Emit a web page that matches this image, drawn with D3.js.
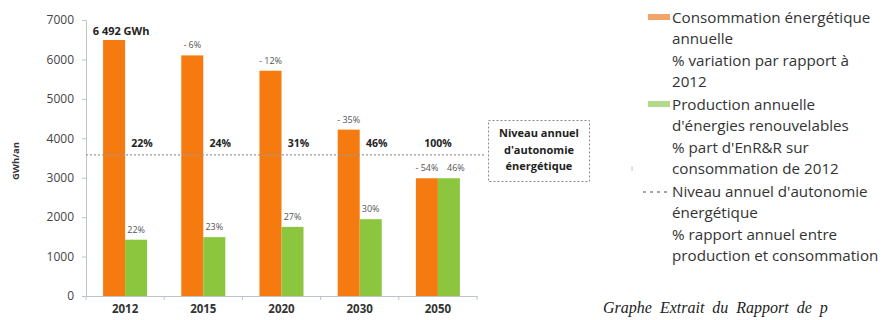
<!DOCTYPE html>
<html>
<head>
<meta charset="utf-8">
<script src="https://cdn.jsdelivr.net/npm/d3@7"></script>
<style>
  body { margin: 0; background: #fff; }
  svg { display: block; font-family: "Open Sans", sans-serif; }
</style>
</head>
<body>
<svg id="chart" width="886" height="320"></svg>
<script>
// data
const years = ["2012", "2015", "2020", "2030", "2050"];
const consumption = [6492, 6102, 5713, 4220, 2986];     // GWh/an
const production = [1428, 1493, 1753, 1948, 2986];      // GWh/an
const consLabels = ["6 492 GWh", "- 6%", "- 12%", "- 35%", "- 54%"];
const prodLabels = ["22%", "23%", "27%", "30%", "46%"];
const autonomyLabels = ["22%", "24%", "31%", "46%", "100%"];
const autonomyLevel = 3580;
const yTicks = [0, 1000, 2000, 3000, 4000, 5000, 6000, 7000];

const orange = "#f57a0f";
const green = "#8cc63f";
const textCol = "#333";

const svg = d3.select("#chart");

let x = d3.scaleBand().domain(years).range([86, 477]).paddingInner(0.437).paddingOuter(0.2185);
let x1 = d3.scaleBand().domain(["cons", "prod"]).range([0, x.bandwidth()]);
let y = d3.scaleLinear().domain([0, 7000]).range([296, 20]);

// y axis
let yAxis = svg.append("g").attr("transform", "translate(86,0)")
    .call(d3.axisLeft(y).tickValues(yTicks).tickSize(4).tickPadding(8).tickFormat(d3.format("d")));
yAxis.select(".domain").attr("stroke", "#b8c4d0");
yAxis.selectAll(".tick line").attr("stroke", "#b8c4d0");
yAxis.selectAll("text").attr("font-size", 12).attr("fill", "#444").attr("font-family", "Open Sans");

svg.append("text")
    .attr("transform", "translate(19,161) rotate(-90)")
    .attr("text-anchor", "middle")
    .attr("font-size", 9.5).attr("font-weight", "bold").attr("fill", textCol)
    .text("GWh/an");

// x axis
let xAxis = svg.append("g").attr("transform", "translate(0,296)")
    .call(d3.axisBottom(x).tickSize(0).tickPadding(9));
xAxis.select(".domain").attr("stroke", "#b8c4d0");
xAxis.selectAll("text").attr("font-size", 11.5).attr("font-weight", "bold").attr("fill", "#333").attr("font-family", "Open Sans");

// separator ticks between categories
let bounds = [x.range()[0]].concat(years.map(d => x(d) + x.bandwidth() + x.step() * x.paddingInner() / 2));
svg.selectAll(".sep").data(bounds).enter().append("line")
    .attr("x1", d => d).attr("x2", d => d)
    .attr("y1", 296).attr("y2", 300)
    .attr("stroke", "#b8c4d0");

const rows = years.map((yr, i) => ({
  year: yr, cons: consumption[i], prod: production[i],
  consLabel: consLabels[i], prodLabel: prodLabels[i], auto: autonomyLabels[i], i: i
}));

// bars
svg.selectAll(".cons").data(rows).enter().append("rect")
    .attr("x", d => x(d.year) + x1("cons"))
    .attr("y", d => y(d.cons))
    .attr("width", x1.bandwidth())
    .attr("height", d => y(0) - y(d.cons))
    .attr("fill", orange);

svg.selectAll(".prod").data(rows).enter().append("rect")
    .attr("x", d => x(d.year) + x1("prod"))
    .attr("y", d => y(d.prod))
    .attr("width", x1.bandwidth())
    .attr("height", d => y(0) - y(d.prod))
    .attr("fill", green);

// autonomy level line + box
svg.append("line")
    .attr("x1", x.range()[0]).attr("x2", 486)
    .attr("y1", y(autonomyLevel)).attr("y2", y(autonomyLevel))
    .attr("stroke", "#999").attr("stroke-width", 1.2).attr("stroke-dasharray", "2,2");

svg.append("rect")
    .attr("x", 488.5).attr("y", 120.5).attr("width", 101).attr("height", 61)
    .attr("fill", "none").attr("stroke", "#888").attr("stroke-dasharray", "2,2");

let boxText = svg.append("text").attr("text-anchor", "middle")
    .attr("font-size", 11).attr("font-weight", "bold").attr("fill", "#222");
["Niveau annuel", "d'autonomie", "énergétique"].forEach((t, i) => {
  boxText.append("tspan").attr("x", 539).attr("y", 137 + i * 16.5).text(t);
});

// labels above consumption bars
svg.selectAll(".consLab").data(rows).enter().append("text")
    .attr("x", d => x(d.year) + x1("cons") + x1.bandwidth() / 2 + (d.i === 0 ? 7 : 0))
    .attr("y", d => y(d.cons) - (d.i === 0 ? 5 : 7))
    .attr("text-anchor", "middle")
    .attr("font-size", d => d.i === 0 ? 11 : 9)
    .attr("font-weight", d => d.i === 0 ? "bold" : "normal")
    .attr("fill", d => d.i === 0 ? "#222" : "#555")
    .text(d => d.consLabel);

// labels above production bars
svg.selectAll(".prodLab").data(rows).enter().append("text")
    .attr("x", d => x(d.year) + x1("prod") + x1.bandwidth() / 2 + (d.i === 4 ? 7 : 0))
    .attr("y", d => y(d.prod) - 7)
    .attr("text-anchor", "middle")
    .attr("font-size", 9).attr("fill", "#555")
    .text(d => d.prodLabel);

// autonomy percentages
svg.selectAll(".autoLab").data(rows).enter().append("text")
    .attr("x", d => d.i === 4 ? x(d.year) + x.bandwidth() / 2 : x(d.year) + x.bandwidth() / 2 + 17)
    .attr("y", y(autonomyLevel) - 8)
    .attr("text-anchor", "middle")
    .attr("font-size", 10.5).attr("font-weight", "bold").attr("fill", "#222")
    .text(d => d.auto);

// legend
const legend = [
  { mark: "rect", color: "#f3a469", lines: ["Consommation énergétique", "annuelle", "% variation par rapport à", "2012"], y0: 23 },
  { mark: "rect", color: "#b3d98a", lines: ["Production annuelle", "d'énergies renouvelables", "% part d'EnR&R sur", "consommation de 2012"], y0: 110 },
  { mark: "dash", color: "#888", lines: ["Niveau annuel d'autonomie", "énergétique", "% rapport annuel entre", "production et consommation"], y0: 197 }
];
legend.forEach(l => {
  if (l.mark === "rect") {
    svg.append("rect").attr("x", 648).attr("y", l.y0 - 9).attr("width", 22).attr("height", 6).attr("fill", l.color);
  } else {
    svg.append("line").attr("x1", 643).attr("x2", 670).attr("y1", l.y0 - 5).attr("y2", l.y0 - 5)
        .attr("stroke", l.color).attr("stroke-width", 1.5).attr("stroke-dasharray", "3,4");
  }
  let t = svg.append("text").attr("font-size", 15.2).attr("fill", textCol);
  l.lines.forEach((s, i) => {
    t.append("tspan").attr("x", 672).attr("y", l.y0 + i * 21.3).text(s);
  });
});

svg.append("text").attr("x", 631).attr("y", 171).attr("font-size", 8).attr("fill", "#aaa").text("i");

// caption (cut at the right edge in the source)
svg.append("text")
    .attr("x", 603).attr("y", 313)
    .attr("font-family", "Liberation Serif, serif").attr("font-style", "italic")
    .attr("font-size", 16).attr("word-spacing", 4).attr("fill", "#222")
    .text("Graphe Extrait du Rapport de p");
</script>
</body>
</html>
